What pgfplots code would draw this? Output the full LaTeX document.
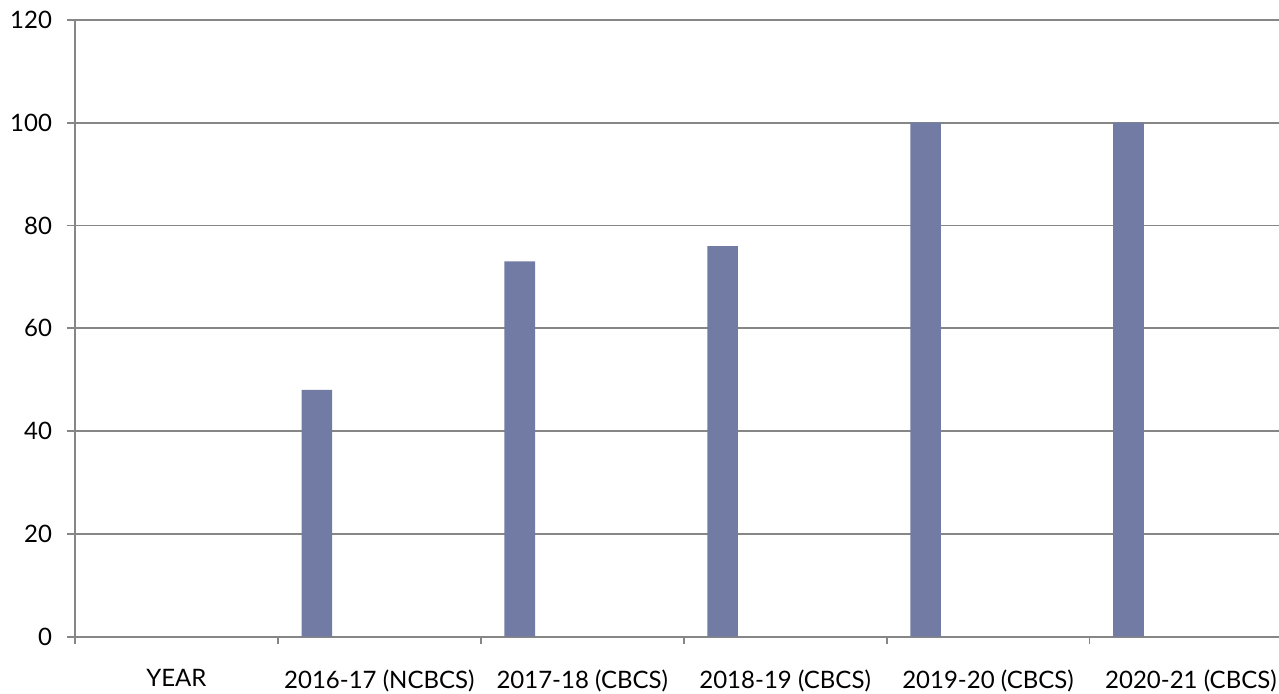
\documentclass[border=0pt]{standalone}
\usepackage{fontspec}
\setmainfont{Lato}
\usepackage{pgfplots}
\pgfplotsset{compat=1.18}
\definecolor{barcol}{RGB}{113,123,163}
\definecolor{gridcol}{RGB}{134,134,134}
\begin{document}
\begin{tikzpicture}
\begin{axis}[
  anchor=south west, at={(0,0)},
  x=101.45pt, y=2.57pt,
  xmin=-0.5, xmax=5.434, ymin=0, ymax=120,
  axis x line*=bottom, axis y line*=left,
  axis line style={gridcol, line width=0.9pt},
  ytick={0,20,...,120},
  ymajorgrids, grid style={gridcol, line width=0.9pt},
  xtick={0,1,2,3,4,5},
  xticklabels={YEAR,2016-17 (NCBCS),2017-18 (CBCS),2018-19 (CBCS),2019-20 (CBCS),2020-21 (CBCS)},
  minor xtick={-0.5,0.5,1.5,2.5,3.5,4.5},
  major x tick style={draw=none},
  minor x tick style={gridcol, line width=0.9pt},
  y tick style={gridcol, line width=0.9pt},
  tick align=outside,
  major tick length=4pt, minor tick length=3.5pt,
  /pgf/number format/assume math mode=true,
  ticklabel style={font=\fontsize{12}{14}\selectfont, text=black},
  xticklabel style={yshift=-9pt},
  yticklabel style={xshift=-4pt},
  clip=false,
]
\addplot[ybar, bar width=15.3pt, bar shift=-31.25pt, fill=barcol, draw=none]
  coordinates {(1,48) (2,73) (3,76) (4,100) (5,100)};
\end{axis}
\pgfresetboundingbox
\path (-37.5pt,-28.65pt) rectangle (602pt,318.35pt);
\end{tikzpicture}
\end{document}
